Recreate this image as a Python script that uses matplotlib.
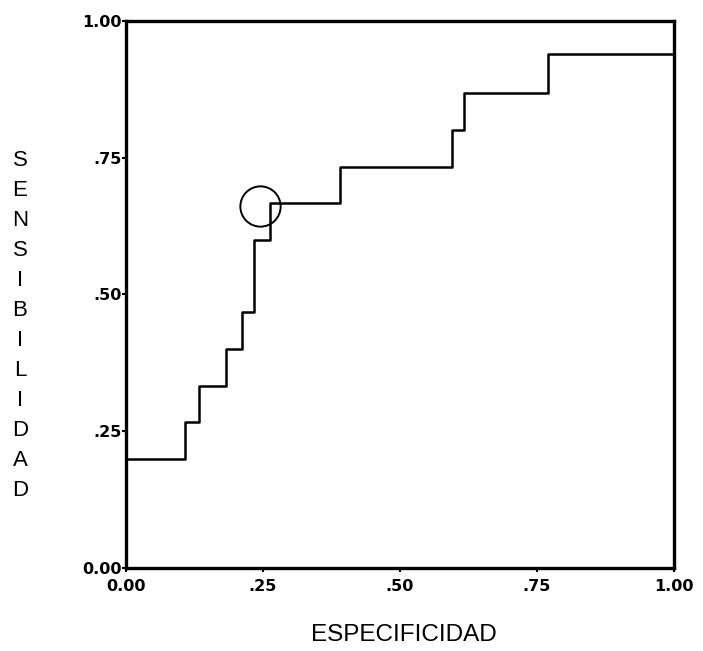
import matplotlib
matplotlib.use("Agg")
import matplotlib.pyplot as plt

# curva ROC (1 - especificidad, sensibilidad)
fpr = [0.0, 0.0, 0.108, 0.134, 0.182, 0.211, 0.234, 0.262, 0.390, 0.595, 0.617, 0.771, 1.0]
tpr = [0.0, 0.20, 0.267, 0.333, 0.40, 0.467, 0.60, 0.667, 0.733, 0.80, 0.867, 0.94, 1.0]

# punto de corte marcado con el circulo
corte_x = [0.245]
corte_y = [0.662]

ticks = [0.0, 0.25, 0.50, 0.75, 1.0]
tick_labels = ['0.00', '.25', '.50', '.75', '1.00']
ylabel = 'SENSIBILIDAD'
xlabel = 'ESPECIFICIDAD'

fig = plt.figure(figsize=(7.03, 6.51), dpi=100)
ax = fig.add_axes([0.1792, 0.1275, 0.7795, 0.8407])

ax.plot(fpr, tpr, color='black', linewidth=1.8, drawstyle='steps-post', clip_on=False)
ax.plot(corte_x, corte_y, marker='o', markersize=29, markerfacecolor='none',
        markeredgecolor='black', markeredgewidth=1.4, linestyle='none')

ax.set_xlim(0, 1)
ax.set_ylim(0, 1)
ax.set_xticks(ticks)
ax.set_xticklabels(tick_labels)
ax.set_yticks(ticks)
ax.set_yticklabels(tick_labels)

for lab in ax.get_xticklabels() + ax.get_yticklabels():
    lab.set_fontfamily('DejaVu Sans')
    lab.set_fontweight('bold')
    lab.set_fontsize(11.5)

ax.tick_params(axis='x', direction='out', length=3, width=1.5, pad=5)
ax.tick_params(axis='y', direction='out', length=3, width=1.5, pad=0)

for s in ax.spines.values():
    s.set_linewidth(2.4)
    s.set_color('black')

# titulo del eje x
fig.text(404 / 703, 1 - 635 / 651, xlabel, ha='center', va='center',
         fontsize=17.5, family='Liberation Sans')

# titulo del eje y, letras apiladas
for i, letra in enumerate(ylabel):
    fig.text(20 / 703, 1 - (160 + 30 * i) / 651, letra, ha='center', va='center',
             fontsize=16, family='Liberation Sans')

fig.savefig('out.png', dpi=100)
